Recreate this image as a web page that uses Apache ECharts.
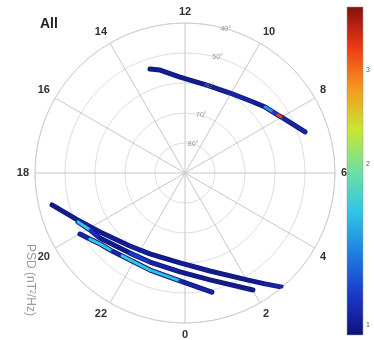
<!DOCTYPE html>
<html>
<head>
<meta charset="utf-8">
<script src="https://cdn.jsdelivr.net/npm/echarts@6/dist/echarts.min.js"></script>
<style>
  html, body { margin: 0; padding: 0; background: #fff; }
  #chart { width: 374px; height: 340px; }
</style>
</head>
<body>
<div id="chart"></div>
<script>
// Dial: magnetic local time (hours) around the circle, magnetic latitude (deg) along the radius
const ringLats = [40, 50, 60, 70, 80];
const colorbarTicks = [1, 2, 3];
const PSD_MIN = 0.96;
const PSD_MAX = 3.93;

// Dayside pass
const noonMlt = [13.24, 12.91, 12.2, 11.07, 10.04, 9.08, 8.63, 8.31, 8.13, 7.95, 7.26];
const noonLat = [53.4, 54.7, 58.0, 59.8, 59.4, 57.2, 55.4, 54.3, 53.5, 52.5, 47.7];
const noonPsd = [1.0, 1.02, 1.0, 1.03, 1.05, 1.02, 1.45, 1.15, 3.3, 1.05, 1.0];

// Nightside passes
const nightAMlt = [18.9, 19.53, 20.32, 21.53, 22.44, 23.79, 0.95, 2.01, 2.39, 2.69];
const nightALat = [44.4, 50.6, 55.5, 59.5, 60.6, 60.0, 56.3, 48.8, 44.4, 40.1];
const nightAPsd = [1.0, 1.02, 1.0, 1.03, 1.0, 1.02, 1.0, 1.0, 1.05, 1.0];

const nightBMlt = [19.64, 20.07, 20.49, 21.7, 22.57, 23.81, 0.88, 2.01];
const nightBLat = [50.8, 53.1, 54.3, 57.6, 58.1, 57.0, 53.4, 44.9];
const nightBPsd = [1.65, 1.1, 1.0, 1.15, 1.05, 1.0, 1.0, 1.0];

const nightCMlt = [20.01, 20.32, 20.66, 21.13, 21.52, 21.85, 22.68, 23.82, 0.85];
const nightCLat = [49.5, 51.4, 53.1, 54.4, 55.3, 55.7, 55.6, 54.0, 49.3];
const nightCPsd = [1.05, 1.65, 1.65, 1.05, 1.65, 1.65, 1.6, 1.05, 1.05];

const jet = ['#10107a', '#1a3acc', '#1f7fe0', '#2ec6e6', '#6ee0a0', '#c8e632', '#f59a1e', '#ee3a14', '#85100e'];

const tracks = [
  { mlt: noonMlt, lat: noonLat, psd: noonPsd },
  { mlt: nightAMlt, lat: nightALat, psd: nightAPsd },
  { mlt: nightBMlt, lat: nightBLat, psd: nightBPsd },
  { mlt: nightCMlt, lat: nightCLat, psd: nightCPsd }
];

const LOG_MIN = Math.log10(PSD_MIN);
const LOG_MAX = Math.log10(PSD_MAX);
const FONT = 'Liberation Sans, Arial, sans-serif';
const NAVY = '#121a80';

// Each segment: [lat1, mlt1, lat2, mlt2, log10(psd at start)]
const segments = [];
tracks.forEach(t => {
  for (let i = 0; i < t.mlt.length - 1; i++) {
    segments.push([t.lat[i], t.mlt[i], t.lat[i + 1], t.mlt[i + 1], Math.log10(t.psd[i])]);
  }
});

const underlays = tracks.map(t => ({
  type: 'line',
  coordinateSystem: 'polar',
  polarIndex: 0,
  data: t.mlt.map((m, i) => [t.lat[i], m]),
  symbol: 'none',
  silent: true,
  z: 3,
  lineStyle: { color: NAVY, width: 5, cap: 'round', join: 'round' }
}));

const chart = echarts.init(document.getElementById('chart'), null, { renderer: 'canvas' });

const option = {
  animation: false,
  backgroundColor: '#fff',
  polar: { center: [185, 173], radius: 150 },
  angleAxis: {
    type: 'value',
    min: 0,
    max: 24,
    interval: 2,
    startAngle: 270,
    clockwise: false,
    axisLine: { lineStyle: { color: '#cfcfcf', width: 1 } },
    axisTick: { show: false },
    axisLabel: {
      margin: 6,
      fontSize: 11,
      fontWeight: 'bold',
      fontFamily: FONT,
      color: '#333',
      formatter: v => (v === 24 ? '' : String(v))
    },
    splitLine: { show: true, lineStyle: { color: '#c8c8c8', width: 1 } }
  },
  radiusAxis: {
    type: 'value',
    min: 40,
    max: 90,
    interval: 10,
    inverse: true,
    axisLine: { show: false },
    axisTick: { show: false },
    axisLabel: { show: false },
    splitLine: { show: true, lineStyle: { color: '#dedede', width: 1 } }
  },
  grid: { left: 347, top: 7, width: 16, height: 328 },
  xAxis: { type: 'value', min: 0, max: 1, show: false },
  yAxis: {
    type: 'value',
    min: LOG_MIN,
    max: LOG_MAX,
    position: 'right',
    axisLine: { show: false },
    splitLine: { show: false },
    axisTick: {
      show: true,
      length: 3,
      customValues: colorbarTicks.map(v => Math.log10(v)),
      lineStyle: { color: '#777' }
    },
    axisLabel: {
      show: true,
      margin: 3,
      fontSize: 7,
      fontFamily: FONT,
      color: '#555',
      customValues: colorbarTicks.map(v => Math.log10(v)),
      formatter: v => String(Math.round(Math.pow(10, v)))
    }
  },
  visualMap: {
    type: 'continuous',
    show: false,
    seriesIndex: tracks.length,
    dimension: 4,
    min: LOG_MIN,
    max: LOG_MAX,
    inRange: { color: jet }
  },
  series: [
    ...underlays,
    {
      type: 'custom',
      coordinateSystem: 'polar',
      polarIndex: 0,
      z: 4,
      silent: true,
      encode: { radius: 0, angle: 1 },
      data: segments,
      renderItem: (params, api) => {
        const p1 = api.coord([api.value(0), api.value(1)]);
        const p2 = api.coord([api.value(2), api.value(3)]);
        return {
          type: 'line',
          shape: { x1: p1[0], y1: p1[1], x2: p2[0], y2: p2[1] },
          style: { stroke: api.visual('color'), lineWidth: 3, lineCap: 'round' }
        };
      }
    },
    {
      type: 'scatter',
      coordinateSystem: 'polar',
      polarIndex: 0,
      silent: true,
      symbolSize: 1,
      itemStyle: { color: 'rgba(0,0,0,0)' },
      z: 5,
      data: ringLats.map(l => [l, 10.95]),
      label: {
        show: true,
        position: 'inside',
        fontSize: 7,
        fontFamily: FONT,
        color: '#7a7a7a',
        formatter: p => p.value[0] + '°'
      }
    },
    {
      type: 'custom',
      coordinateSystem: 'cartesian2d',
      silent: true,
      data: [[0, LOG_MIN]],
      renderItem: (params, api) => {
        const tl = api.coord([0, LOG_MAX]);
        const br = api.coord([1, LOG_MIN]);
        const stops = jet.map((c, i) => ({ offset: 1 - i / (jet.length - 1), color: c })).reverse();
        return {
          type: 'rect',
          shape: { x: tl[0], y: tl[1], width: br[0] - tl[0], height: br[1] - tl[1] },
          style: {
            fill: { type: 'linear', x: 0, y: 0, x2: 0, y2: 1, colorStops: stops },
            stroke: '#9a9a9a',
            lineWidth: 0.5
          }
        };
      }
    }
  ],
  graphic: [
    {
      type: 'text',
      left: 40,
      top: 17,
      style: { text: 'All', font: 'bold 14px ' + FONT, fill: '#222' }
    },
    {
      type: 'text',
      x: 30,
      y: 280,
      rotation: -Math.PI / 2,
      style: {
        text: 'PSD (nT²/Hz)',
        font: '12px ' + FONT,
        fill: '#9a9a9a',
        align: 'center',
        verticalAlign: 'middle'
      }
    }
  ]
};

chart.setOption(option);
</script>
</body>
</html>
